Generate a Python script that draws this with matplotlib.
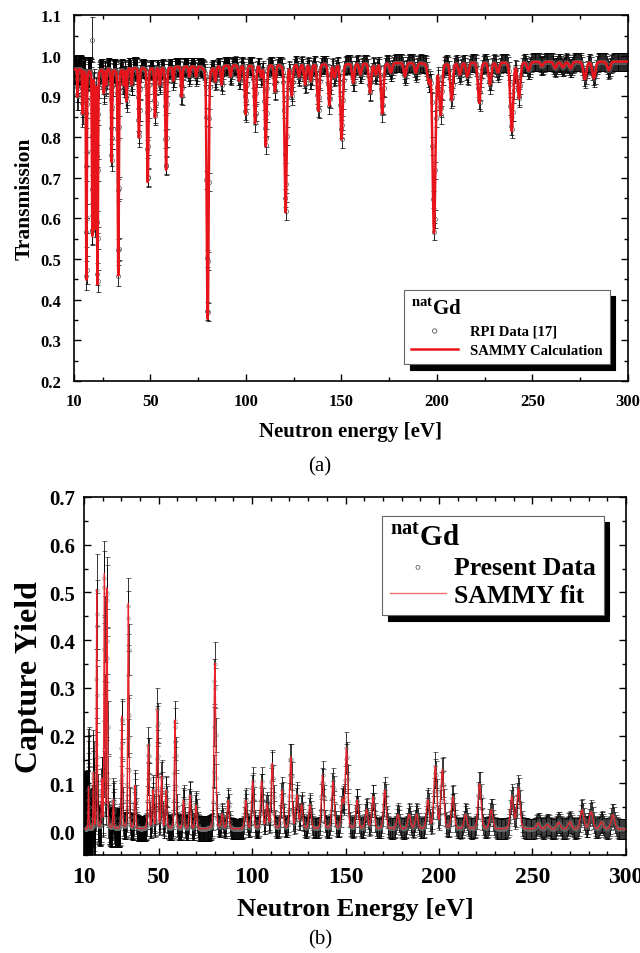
import matplotlib

matplotlib.use("Agg")
import matplotlib.pyplot as plt
import numpy as np
from matplotlib.ticker import MultipleLocator, FixedLocator

plt.rcParams["font.family"] = ["Liberation Serif", "DejaVu Serif"]
plt.rcParams["font.weight"] = "bold"
plt.rcParams["axes.labelweight"] = "bold"
plt.rcParams["mathtext.fontset"] = "custom"
plt.rcParams["mathtext.rm"] = "Liberation Serif:bold"
plt.rcParams["mathtext.bf"] = "Liberation Serif:bold"

# ---------------------------------------------------------------------
# (a) transmission: resonance dips
# ---------------------------------------------------------------------
TRANS_E = [11.8, 14.4, 16.5, 19.6, 21.0, 22.3, 25.6, 26.8, 29.7, 33.2,
           36.0, 37.5, 40.2, 44.0, 48.6, 52.4, 55.0, 58.2, 62.0, 66.4,
           70.4, 74.0, 80.0, 84.0, 87.3, 92.0, 96.5, 99.9, 104.8, 108.0,
           110.4, 115.2, 120.8, 124.0, 127.8, 131.0, 134.0, 137.9, 143.7,
           146.5, 150.1, 156.2, 160.0, 165.0, 168.0, 171.4, 176.0, 183.3,
           189.0, 195.8, 198.5, 202.0, 207.7, 212.0, 216.0, 222.2, 227.8,
           232.0, 239.2, 243.0, 248.0, 255.0, 262.0, 266.0, 270.0, 277.5,
           282.2, 290.0]
TRANS_MIN = [0.90, 0.86, 0.45, 0.56, 0.58, 0.44, 0.91, 0.93, 0.74, 0.46,
             0.93, 0.89, 0.93, 0.80, 0.69, 0.85, 0.93, 0.72, 0.94, 0.90,
             0.95, 0.95, 0.353, 0.94, 0.93, 0.95, 0.94, 0.857, 0.836, 0.95,
             0.779, 0.914, 0.616, 0.905, 0.95, 0.93, 0.94, 0.865, 0.879,
             0.95, 0.795, 0.935, 0.955, 0.91, 0.955, 0.859, 0.96, 0.95,
             0.96, 0.94, 0.566, 0.859, 0.893, 0.955, 0.95, 0.885, 0.93,
             0.96, 0.816, 0.897, 0.965, 0.975, 0.97, 0.972, 0.97, 0.943,
             0.945, 0.965]
TRANS_BASE_E = [10, 60, 120, 245, 300]
TRANS_BASE = [0.968, 0.974, 0.981, 0.986, 0.986]
TRANS_ERR_EDGES = [10, 20, 45, 300]
TRANS_ERR = [0.035, 0.027, 0.022]
OUTLIER_E = [19.4]
OUTLIER_T = [1.04]
OUTLIER_ERR = [0.055]

# ---------------------------------------------------------------------
# (b) capture yield: resonance peaks
# ---------------------------------------------------------------------
YIELD_E = [12.5, 15.1, 16.9, 19.6, 21.0, 22.4, 25.8, 30.3, 33.8, 37.4,
           44.5, 46.9, 49.3, 51.6, 54.0, 58.8, 63.3, 66.8, 70.0, 80.1,
           84.0, 87.2, 96.6, 100.3, 105.1, 108.0, 110.8, 116.0, 120.7,
           124.0, 126.5, 131.0, 137.7, 143.3, 148.3, 150.5, 156.2, 161.2,
           164.7, 171.0, 178.0, 184.0, 188.0, 194.0, 198.0, 201.8, 207.4,
           214.2, 221.7, 228.0, 239.0, 242.5, 253.0, 258.0, 264.0, 270.0,
           276.5, 281.4, 287.0, 293.0]
YIELD_PEAK = [0.088, 0.116, 0.50, 0.10, 0.53, 0.50, 0.06, 0.235, 0.472, 0.09,
              0.175, 0.08, 0.249, 0.109, 0.08, 0.228, 0.06, 0.07, 0.05, 0.347,
              0.03, 0.06, 0.06, 0.10, 0.10, 0.05, 0.137, 0.08, 0.15,
              0.07, 0.05, 0.05, 0.112, 0.099, 0.06, 0.168, 0.06, 0.04,
              0.067, 0.081, 0.03, 0.03, 0.03, 0.06, 0.13, 0.123, 0.067,
              0.03, 0.095, 0.04, 0.067, 0.085, 0.012, 0.01, 0.014, 0.015,
              0.04, 0.036, 0.015, 0.03]
YIELD_BASE = 0.004
YIELD_ERR_EDGES = [10, 13, 16, 30, 80, 300]
YIELD_ERR = [0.12, 0.08, 0.04, 0.026, 0.021]

E_MIN, E_MAX = 10, 300


def line_shape(e, centers, width_coef, eta=0.2):
    """Peak-normalised pseudo-Voigt profiles, FWHM ~ sqrt(E)."""
    c = np.asarray(centers)[None, :]
    fwhm = width_coef * np.sqrt(c)
    x = (e[:, None] - c) / fwhm
    gauss = np.exp(-4.0 * np.log(2.0) * x ** 2)
    lor = 1.0 / (1.0 + 4.0 * x ** 2)
    return (1 - eta) * gauss + eta * lor


def transmission(e):
    base = np.interp(e, TRANS_BASE_E, TRANS_BASE)
    base_c = np.interp(TRANS_E, TRANS_BASE_E, TRANS_BASE)
    a = -np.log(np.asarray(TRANS_MIN) / base_c)
    return base * np.exp(-line_shape(e, TRANS_E, 0.11) @ a)


def capture_yield(e):
    return YIELD_BASE + line_shape(e, YIELD_E, 0.13) @ np.asarray(YIELD_PEAK)


def step_lookup(e, edges, vals):
    idx = np.clip(np.searchsorted(edges, e, side="right") - 1, 0, len(vals) - 1)
    return np.asarray(vals)[idx]


def tof_grid(step):
    pts = [E_MIN]
    while pts[-1] < E_MAX:
        pts.append(pts[-1] + step * np.sqrt(pts[-1]))
    return np.array(pts[:-1])


def style_axis(ax, tick_fs):
    ax.tick_params(which="both", direction="in", top=True, right=True,
                   width=1.0, labelsize=tick_fs)
    ax.tick_params(which="major", length=5)
    ax.tick_params(which="minor", length=3)
    for s in ax.spines.values():
        s.set_linewidth(1.2)


fig = plt.figure(figsize=(6.4, 9.54), dpi=100)

# ---------------- panel (a) ----------------
ax1 = fig.add_axes([0.1156, 0.5996, 0.8654, 0.3834])
e_fine = np.arange(E_MIN, E_MAX, 0.01)
e_dat = tof_grid(0.028)
t_dat = transmission(e_dat)
t_err = step_lookup(e_dat, TRANS_ERR_EDGES, TRANS_ERR)

ax1.errorbar(e_dat, t_dat, yerr=t_err, fmt="o", ms=3.0, mfc="none",
             mec="0.35", mew=0.5, ecolor="k", elinewidth=0.6, capsize=1.8,
             capthick=0.6, zorder=2)
ax1.errorbar(OUTLIER_E, OUTLIER_T, yerr=OUTLIER_ERR, fmt="o", ms=3.0,
             mfc="none", mec="0.35", mew=0.5, ecolor="k", elinewidth=0.6,
             capsize=1.8, capthick=0.6, zorder=2)
ax1.plot(e_fine, transmission(e_fine), color="#e8141c", lw=1.8, zorder=3)

ax1.set_xlim(E_MIN, E_MAX)
ax1.set_ylim(0.2, 1.1)
ax1.xaxis.set_major_locator(FixedLocator([10, 50, 100, 150, 200, 250, 300]))
ax1.xaxis.set_minor_locator(FixedLocator([25, 75, 125, 175, 225, 275]))
ax1.yaxis.set_major_locator(MultipleLocator(0.1))
ax1.yaxis.set_minor_locator(MultipleLocator(0.05))
ax1.yaxis.set_major_formatter(plt.FuncFormatter(lambda v, p: f"{v:.1f}"))
style_axis(ax1, 12)
ax1.tick_params(axis="both", which="major", pad=9)
ax1.set_xlabel("Neutron energy [eV]", fontsize=15, labelpad=8)
ax1.set_ylabel("Transmission", fontsize=15.5, labelpad=4)

h_pt = ax1.scatter([], [], s=10, facecolors="none", edgecolors="0.35",
                   linewidths=0.6)
h_ln, = ax1.plot([], [], color="#e8141c", lw=1.8)
leg1 = ax1.legend([h_pt, h_ln], ["RPI Data [17]", "SAMMY Calculation"],
                  title=r"$^{\mathrm{nat}}$Gd", loc="lower right",
                  bbox_to_anchor=(0.967, 0.046), borderaxespad=0,
                  fontsize=10.5,
                  title_fontproperties={"size": 15, "weight": "bold"},
                  alignment="left", fancybox=False, edgecolor="0.4",
                  framealpha=1, handlelength=3.2, borderpad=0.5,
                  labelspacing=0.4, handletextpad=0.8,
                  shadow={"ox": 4, "oy": -4, "color": "k", "alpha": 1})
leg1.get_frame().set_linewidth(0.8)

fig.text(0.5, 0.511, "(a)", ha="center", va="center", fontsize=15,
         fontweight="normal")

# ---------------- panel (b) ----------------
ax2 = fig.add_axes([0.131, 0.1027, 0.847, 0.3753])
y_dat = capture_yield(e_dat)
y_err = step_lookup(e_dat, YIELD_ERR_EDGES, YIELD_ERR) + 0.07 * y_dat

ax2.errorbar(e_dat, y_dat, yerr=y_err, fmt="o", ms=2.5, mfc="none",
             mec="0.45", mew=0.4, ecolor="k", elinewidth=0.55, capsize=1.8,
             capthick=0.55, zorder=2)
ax2.plot(e_fine, capture_yield(e_fine), color="#e8232b", lw=0.9, zorder=3)

ax2.set_xlim(E_MIN, E_MAX)
ax2.set_ylim(-0.05, 0.7)
ax2.xaxis.set_major_locator(FixedLocator([10, 50, 100, 150, 200, 250, 300]))
ax2.xaxis.set_minor_locator(FixedLocator(list(range(20, 300, 10))))
ax2.yaxis.set_major_locator(FixedLocator([0.0, 0.1, 0.2, 0.3, 0.4, 0.5, 0.6, 0.7]))
ax2.yaxis.set_minor_locator(MultipleLocator(0.05))
ax2.yaxis.set_major_formatter(plt.FuncFormatter(lambda v, p: f"{v:.1f}"))
style_axis(ax2, 15)
ax2.tick_params(axis="x", labelsize=17, pad=8)
ax2.tick_params(axis="y", which="major", pad=6)
ax2.set_xlabel("Neutron Energy [eV]", fontsize=19, labelpad=7)
ax2.set_ylabel("Capture Yield", fontsize=23, labelpad=4)

h_pt2 = ax2.scatter([], [], s=8, facecolors="none", edgecolors="0.4",
                    linewidths=0.6)
h_ln2, = ax2.plot([], [], color="#f07070", lw=1.0)
leg2 = ax2.legend([h_pt2, h_ln2], ["Present Data", "SAMMY fit"],
                  title=r"$^{\mathrm{nat}}$Gd", loc="upper left",
                  bbox_to_anchor=(0.55, 0.947),
                  borderaxespad=0, fontsize=18.5,
                  title_fontproperties={"size": 21, "weight": "bold"},
                  alignment="left", fancybox=False, edgecolor="0.4",
                  framealpha=1, handlelength=2.2, borderpad=0.3,
                  labelspacing=0.2, handletextpad=0.3,
                  shadow={"ox": 4, "oy": -4, "color": "k", "alpha": 1})
leg2.get_frame().set_linewidth(0.8)

fig.text(0.5, 0.015, "(b)", ha="center", va="center", fontsize=15,
         fontweight="normal")

fig.savefig("out.png", dpi=100)
